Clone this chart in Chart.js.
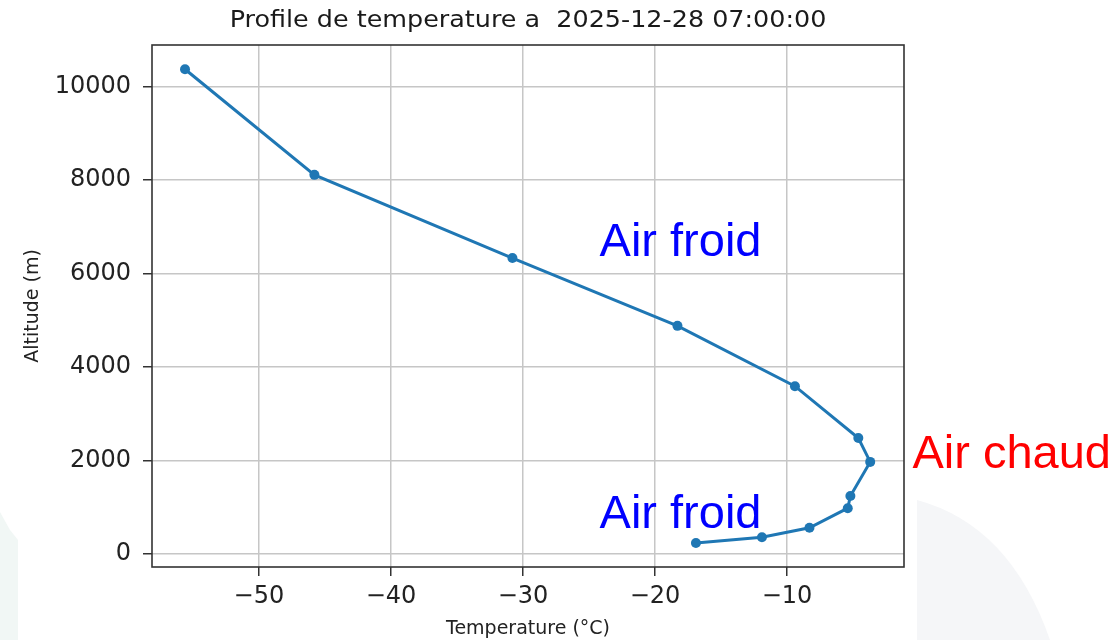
<!DOCTYPE html>
<html>
<head>
<meta charset="utf-8">
<script src="https://cdn.jsdelivr.net/npm/chart.js@4.4.1/dist/chart.umd.min.js"></script>
<style>
  html, body { margin: 0; padding: 0; background: #fff; }
  #wrap { width: 1119px; height: 640px; position: relative; }
</style>
</head>
<body>
<div id="wrap"><canvas id="profileChart"></canvas></div>
<script>
// data block
const temperatures = [-55.6, -45.8, -30.8, -18.3, -9.4, -4.6, -3.7, -5.2, -5.4, -8.3, -11.9, -16.9];
const altitudes = [10370, 8110, 6330, 4880, 3590, 2480, 1970, 1240, 980, 560, 360, 235];
const tempTicks = [-50, -40, -30, -20, -10];
const altTicks = [0, 2000, 4000, 6000, 8000, 10000];
const chartTitle = 'Profile de temperature a  2025-12-28 07:00:00';

// annotations (placed in data coordinates)
const noteTexts = ['Air froid', 'Air froid', 'Air chaud'];
const noteTemps = [-24.2, -24.2, -0.5];
const noteAlts = [6370, 560, 1840];
const noteColors = ['#0000ff', '#0000ff', '#ff0000'];

Chart.defaults.font.family = "'DejaVu Sans', sans-serif";
Chart.defaults.color = '#222';

const profilePoints = temperatures.map((t, i) => ({ x: t, y: altitudes[i] }));

// faint slide decorations behind the chart
const backdrop = {
	id: 'backdrop',
	beforeDraw(chart) {
		const ctx = chart.ctx;
		ctx.save();
		ctx.fillStyle = '#ffffff';
		ctx.fillRect(0, 0, chart.width, chart.height);
		ctx.fillStyle = '#f1f7f5';
		ctx.beginPath();
		ctx.moveTo(0, 512);
		ctx.lineTo(10, 530);
		ctx.lineTo(18, 540);
		ctx.lineTo(18, 640);
		ctx.lineTo(0, 640);
		ctx.closePath();
		ctx.fill();
		ctx.fillStyle = '#f5f6f8';
		ctx.beginPath();
		ctx.moveTo(917, 640);
		ctx.lineTo(917, 500);
		ctx.quadraticCurveTo(1010, 525, 1050, 640);
		ctx.closePath();
		ctx.fill();
		ctx.restore();
	},
};

// matplotlib style frame on all four sides
const frame = {
	id: 'frame',
	beforeDatasetsDraw(chart) {
		const { ctx, chartArea: a } = chart;
		ctx.save();
		ctx.strokeStyle = '#333';
		ctx.lineWidth = 1.6;
		ctx.strokeRect(a.left, a.top, a.right - a.left, a.bottom - a.top);
		ctx.restore();
	},
};

// title centred over the plot area, a bit stretched like the picture
const topTitle = {
	id: 'topTitle',
	afterDraw(chart) {
		const { ctx, chartArea: a } = chart;
		ctx.save();
		ctx.translate((a.left + a.right) / 2, 21);
		ctx.scale(1.13, 1);
		ctx.font = "22.5px 'DejaVu Sans', sans-serif";
		ctx.fillStyle = '#1a1a1a';
		ctx.textAlign = 'center';
		ctx.textBaseline = 'middle';
		ctx.fillText(chartTitle, 0, 0);
		ctx.restore();
	},
};

const notes = {
	id: 'notes',
	afterDraw(chart) {
		const { ctx, scales } = chart;
		ctx.save();
		ctx.font = "47px 'Liberation Sans', Arial, sans-serif";
		ctx.textBaseline = 'alphabetic';
		ctx.textAlign = 'left';
		noteTexts.forEach((txt, i) => {
			ctx.fillStyle = noteColors[i];
			ctx.fillText(txt, scales.x.getPixelForValue(noteTemps[i]), scales.y.getPixelForValue(noteAlts[i]));
		});
		ctx.restore();
	},
};

const config = {
	type: 'scatter',
	data: {
		datasets: [
			{
				label: 'Profil',
				data: profilePoints,
				showLine: true,
				borderColor: '#1f77b4',
				backgroundColor: '#1f77b4',
				borderWidth: 3,
				pointRadius: 5,
				pointBorderWidth: 0,
				pointBackgroundColor: '#1f77b4',
			},
		],
	},
	options: {
		responsive: true,
		maintainAspectRatio: false,
		animation: false,
		layout: { padding: { left: 0, right: 215, top: 45, bottom: 0 } },
		plugins: {
			legend: { display: false },
			tooltip: { enabled: false },
			title: { display: false },
		},
		scales: {
			x: {
				type: 'linear',
				min: -58.1,
				max: -1.14,
				afterFit: (s) => { s.height = 73; },
				afterBuildTicks: (s) => { s.ticks = tempTicks.map((v) => ({ value: v })); },
				grid: { color: '#c6c6c6', lineWidth: 1.5, tickLength: 9, tickColor: '#333', tickWidth: 1.5 },
				border: { display: false },
				ticks: {
					font: { size: 24 },
					color: '#222',
					padding: 6,
					maxRotation: 0,
					callback: (v) => String(v).replace('-', '\u2212'),
				},
				title: {
					display: true,
					text: 'Temperature (°C)',
					font: { size: 19 },
					color: '#222',
					padding: { top: 0, bottom: 0 },
				},
			},
			y: {
				type: 'linear',
				min: -278,
				max: 10888,
				afterFit: (s) => { s.width = 152; },
				afterBuildTicks: (s) => { s.ticks = altTicks.map((v) => ({ value: v })); },
				grid: { color: '#c6c6c6', lineWidth: 1.5, tickLength: 9, tickColor: '#333', tickWidth: 1.5 },
				border: { display: false },
				ticks: {
					font: { size: 24 },
					color: '#222',
					padding: 12,
					callback: (v) => String(v),
				},
				title: {
					display: true,
					text: 'Altitude (m)',
					font: { size: 19 },
					color: '#222',
					padding: { top: 21.6, bottom: 0 },
				},
			},
		},
	},
	plugins: [backdrop, frame, topTitle, notes],
};

// render / init block
const profileChart = new Chart(document.getElementById('profileChart'), config);
</script>
</body>
</html>
